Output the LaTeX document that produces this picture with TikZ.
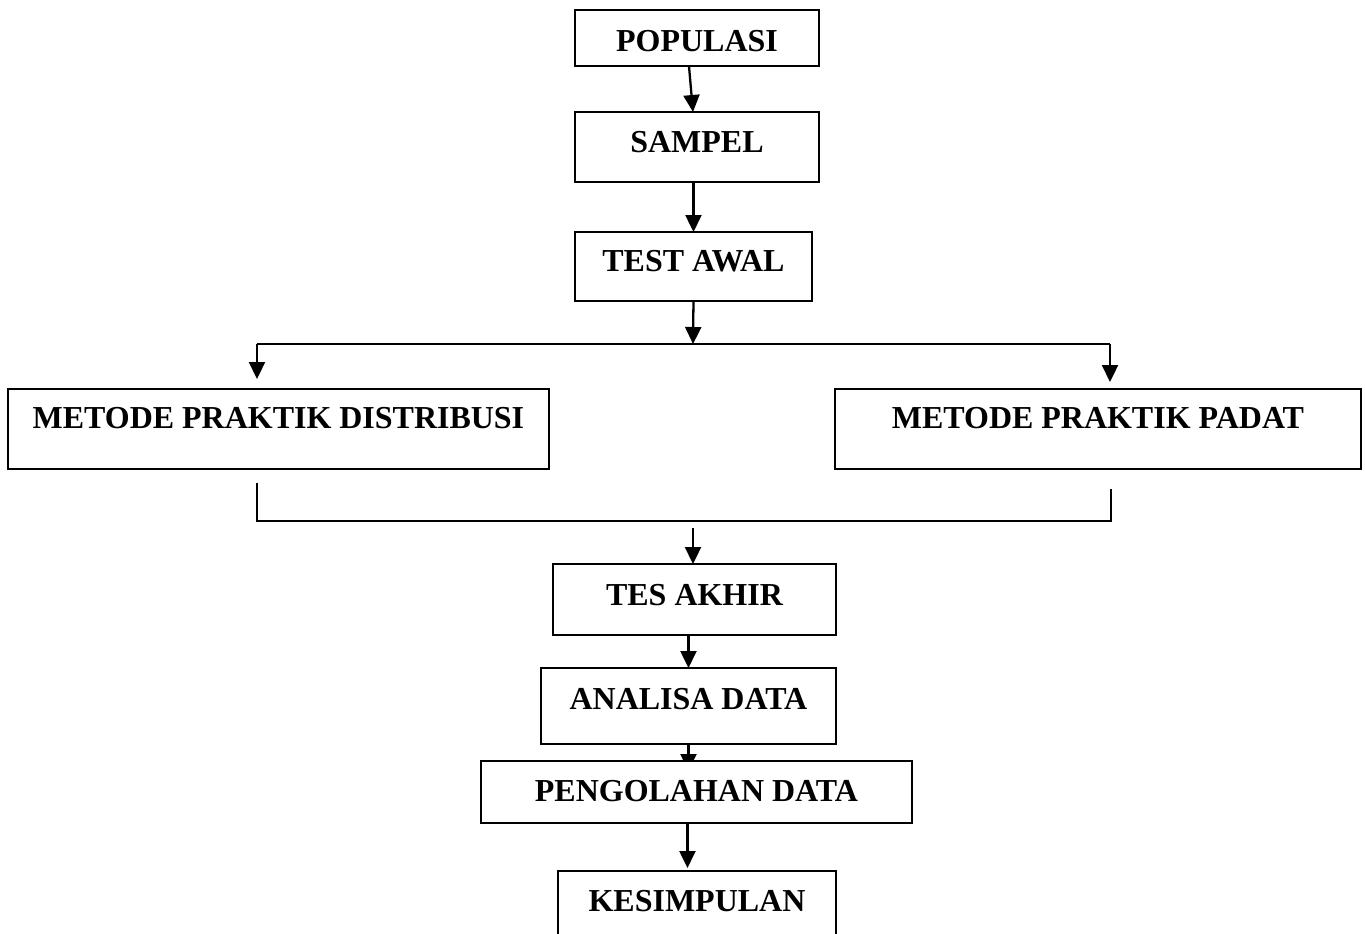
\documentclass[tikz,border=0pt]{standalone}
\usepackage{fontspec}
\setmainfont{Liberation Serif}
\usetikzlibrary{arrows.meta,calc,backgrounds}

\begin{document}
\begin{tikzpicture}[x=0.02cm,y=-0.02cm,
    kotak/.style={draw,line width=1.2pt,fill=white,inner sep=0pt,outer sep=0pt,
      anchor=north west,font=\fontsize{18.2}{20}\selectfont\bfseries},
    panah/.style={-{Triangle[length=0.34cm,width=0.32cm]},line width=1.3pt},
    garis/.style={line width=1.2pt}]

  \useasboundingbox (0,0) rectangle (1365,933);

  % Kotak atas
  \node[kotak,minimum width=4.88cm,text height=0.84cm,text depth=0.28cm]
    (populasi) at (575,10) {POPULASI};
  \node[kotak,minimum width=4.88cm,text height=0.82cm,text depth=0.58cm]
    (sampel) at (575,112) {SAMPEL};
  \node[kotak,minimum width=4.74cm,text height=0.80cm,text depth=0.58cm]
    (tesawal) at (575,232) {TEST AWAL};

  % Dua metode
  \node[kotak,minimum width=10.82cm,text height=0.80cm,text depth=0.80cm]
    (distribusi) at (8,389) {METODE PRAKTIK DISTRIBUSI};
  \node[kotak,minimum width=10.52cm,text height=0.80cm,text depth=0.80cm]
    (padat) at (835,389) {METODE PRAKTIK PADAT};

  % Kotak bawah
  \node[kotak,minimum width=5.66cm,text height=0.82cm,text depth=0.60cm]
    (tesakhir) at (553,564) {TES AKHIR};
  \node[kotak,minimum width=5.90cm,text height=0.82cm,text depth=0.70cm]
    (analisa) at (541,668) {ANALISA DATA};
  \node[kotak,minimum width=8.62cm,text height=0.80cm,text depth=0.44cm]
    (olah) at (481,761) {PENGOLAHAN DATA};
  \node[kotak,minimum width=5.56cm,text height=0.80cm,text depth=0.80cm]
    (simpul) at (558,871) {KESIMPULAN};

  % titik cabang dan gabung
  \coordinate (cabang) at (693,344);
  \coordinate (cabkiri) at (257,344);
  \coordinate (cabkanan) at (1110,344);
  \coordinate (gabkiri) at (257,521);
  \coordinate (gabkanan) at (1111,521);
  \coordinate (ujungkiri) at (257,483);
  \coordinate (ujungkanan) at (1111,489);
  \coordinate (gabung) at (693,528);

  % panah
  \draw[panah] ([xshift=-0.16cm]populasi.south) -- ([xshift=-0.08cm]sampel.north);
  \draw[panah] (sampel.south -| tesawal.north) -- (tesawal.north);
  \draw[panah] (tesawal.south) -- (cabang);
  \draw[garis] (cabkiri) -- (cabkanan);
  \draw[panah] (cabkiri) -- ([yshift=0.2cm]cabkiri |- distribusi.north);
  \draw[panah] (cabkanan) -- ([yshift=0.14cm]cabkanan |- padat.north);

  \draw[garis] (ujungkiri) -- (gabkiri) -- (gabkanan) -- (ujungkanan);
  \draw[panah] (gabung) -- (gabung |- tesakhir.north);
  \draw[panah] (tesakhir.south -| analisa.north) -- (analisa.north);
  \begin{scope}[on background layer]
    \draw[panah,shorten >=-0.2cm] (analisa.south) -- (analisa.south |- olah.north);
  \end{scope}
  \draw[panah] ([xshift=-0.18cm]olah.south) -- ([xshift=-0.18cm,yshift=0.06cm]olah.south |- simpul.north);

\end{tikzpicture}
\end{document}
